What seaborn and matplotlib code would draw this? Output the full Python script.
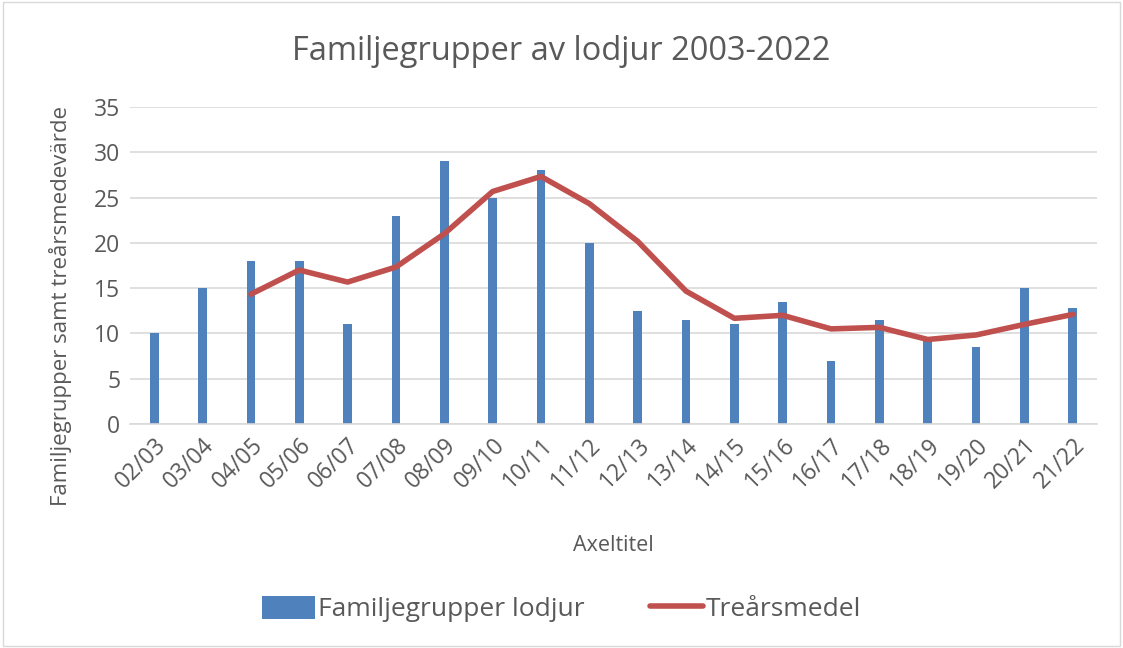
import numpy as np
import pandas as pd
import seaborn as sns
import matplotlib.pyplot as plt
from matplotlib.patches import Patch, Rectangle
from matplotlib.lines import Line2D

# data
seasons = ['02/03', '03/04', '04/05', '05/06', '06/07', '07/08', '08/09', '09/10', '10/11', '11/12',
           '12/13', '13/14', '14/15', '15/16', '16/17', '17/18', '18/19', '19/20', '20/21', '21/22']
familjegrupper = [10, 15, 18, 18, 11, 23, 29, 25, 28, 20,
                  12.5, 11.5, 11, 13.5, 7, 11.5, 9.5, 8.5, 15, 12.8]
trearsmedel = [14.33, 17.0, 15.67, 17.33, 21.0, 25.67, 27.33, 24.33,
               20.17, 14.67, 11.67, 12.0, 10.5, 10.67, 9.33, 9.83, 11.0, 12.1]

blue = '#4f81bd'
red = '#c0504d'
text_col = '#595959'

sns.set_theme(style='white')
plt.rcParams['font.family'] = ['Open Sans', 'DejaVu Sans']

fig = plt.figure(figsize=(11.23, 6.48), dpi=100)
ax = fig.add_axes([130 / 1123, 1 - 424 / 648, (1097 - 130) / 1123, (424 - 107) / 648])

df = pd.DataFrame({'pos': np.arange(len(seasons)), 'val': familjegrupper})
sns.barplot(data=df, x='pos', y='val', color=blue, width=0.18, native_scale=True,
            saturation=1, linewidth=0, ax=ax, zorder=2)

line_df = pd.DataFrame({'pos': np.arange(2, len(seasons)), 'val': trearsmedel})
sns.lineplot(data=line_df, x='pos', y='val', color=red, linewidth=4, ax=ax, zorder=3)

ax.set_xlim(-0.5, len(seasons) - 0.5)
ax.set_ylim(0, 35)
ax.set_yticks(range(0, 36, 5))
ax.set_xticks(np.arange(len(seasons)))
ax.set_xticklabels(seasons, rotation=45, ha='right', rotation_mode='anchor')
ax.tick_params(axis='both', colors=text_col, labelsize=16.5, length=0, pad=7)
ax.grid(axis='y', color='#d9d9d9', linewidth=1.2, zorder=0)
ax.set_axisbelow(True)
for s in ['top', 'right', 'left']:
    ax.spines[s].set_visible(False)
ax.spines['bottom'].set_color('#d9d9d9')
ax.spines['bottom'].set_linewidth(1.2)

ax.set_xlabel('Axeltitel', color=text_col, fontsize=15.5)
ax.xaxis.set_label_coords(0.5, -(535 - 424) / 317, transform=ax.transAxes)
ax.set_ylabel('Familjegrupper samt treårsmedevärde', color=text_col, fontsize=16)
ax.yaxis.set_label_coords(-(130 - 72) / 967, (424 - 306) / 317)

fig.text(0.5, 1 - 52 / 648, 'Familjegrupper av lodjur 2003-2022', ha='center', va='center',
         fontsize=23.5, color=text_col)

handles = [Patch(facecolor=blue, edgecolor='none'),
           Line2D([0], [0], color=red, linewidth=4)]
fig.legend(handles, ['Familjegrupper lodjur', 'Treårsmedel'], loc='center',
           bbox_to_anchor=(0.5, 1 - 609 / 648), ncol=2, frameon=False, fontsize=19,
           labelcolor=text_col, handlelength=2.0, handleheight=1.0, handletextpad=0.1,
           columnspacing=2.5)

fig.patches.append(Rectangle((0.003, 0.003), 0.994, 0.994, transform=fig.transFigure,
                             fill=False, edgecolor='#d9d9d9', linewidth=1))

fig.savefig('out.png', dpi=100)
